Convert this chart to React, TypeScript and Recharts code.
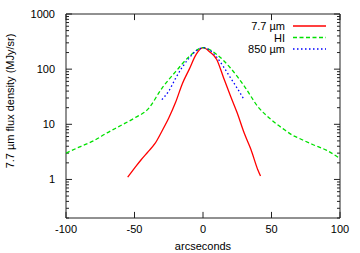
import React from 'react';
import { LineChart, Line, XAxis, YAxis, ReferenceArea, ReferenceLine } from 'recharts';

// radial profiles, offset in arcseconds vs flux density (MJy/sr)
const pahX = [-55, -50, -45, -40, -35, -30, -25, -20, -15, -10, -5, 0, 5, 10, 15, 20, 25, 30, 35, 40, 42];
const pahY = [1.1, 1.6, 2.3, 3.2, 4.5, 7.5, 13, 25, 55, 100, 185, 245, 205, 150, 70, 33, 16, 7, 3.5, 1.5, 1.15];

const hiX = [-100, -90, -80, -70, -60, -50, -40, -30, -20, -10, 0, 10, 20, 30, 40, 50, 60, 65, 70, 80, 90, 100];
const hiY = [3.0, 3.9, 5.0, 7.0, 9.5, 13, 19, 45, 90, 170, 245, 185, 105, 50, 21, 12, 7.8, 6.4, 5.6, 4.3, 3.4, 2.4];

const smmX = [-30, -25, -20, -15, -10, -5, 0, 5, 10, 15, 20, 25, 30];
const smmY = [28, 40, 68, 110, 160, 215, 245, 220, 165, 110, 70, 45, 28];

const xTicks = [-100, -50, 0, 50, 100];
const yTicks = [
  0.2, 0.3, 0.4, 0.5, 0.6, 0.7, 0.8, 0.9,
  1, 2, 3, 4, 5, 6, 7, 8, 9,
  10, 20, 30, 40, 50, 60, 70, 80, 90,
  100, 200, 300, 400, 500, 600, 700, 800, 900,
  1000,
];
const majors = [1, 10, 100, 1000];

const series = [
  { name: '7.7 µm', color: '#ff0000', dash: undefined, xs: pahX, ys: pahY },
  { name: 'HI', color: '#00e000', dash: '4 2.5', xs: hiX, ys: hiY },
  { name: '850 µm', color: '#0000ff', dash: '1.5 2.5', xs: smmX, ys: smmY },
];

const FONT = '"Liberation Sans", Arial, sans-serif';
const INK = '#222';
const W = 360;
const H = 253;
const M = { top: 14, right: 0, bottom: 0, left: 0 };
const LEFT_W = 66;
const RIGHT_W = 20;
const BOTTOM_H = 35;
// tick lengths, in axis units (about 6px / 3px at this size)
const XMAJ = 4.4;
const XMIN = 2.2;
const YFAC = 1.29;

const LeftTick = (props: any) => {
  const { x, y, payload } = props;
  const v = payload.value;
  if (!majors.includes(v)) return <g />;
  return (
    <text x={x - 3} y={y} dy={4} textAnchor="end" fontSize={11} fontFamily={FONT} fill="#000">
      {v}
    </text>
  );
};

const BottomTick = (props: any) => {
  const { x, y, payload } = props;
  return (
    <text x={x} y={y + 7} textAnchor="middle" fontSize={11} fontFamily={FONT} fill="#000">
      {payload.value}
    </text>
  );
};

const tickLine = { stroke: INK, strokeWidth: 1, ifOverflow: 'visible' as const, xAxisId: 'b', yAxisId: 'l' };

export default function App() {
  return (
    <div style={{ position: 'absolute', left: 0, top: 0, width: W, height: H, background: '#fff' }}>
      <LineChart width={W} height={H} margin={M}>
        <XAxis
          xAxisId="b" dataKey="x" type="number" domain={[-100, 100]} ticks={xTicks}
          height={BOTTOM_H} tickLine={false} tick={<BottomTick />} axisLine={false}
          allowDataOverflow
        />
        <YAxis
          yAxisId="l" type="number" scale="log" domain={[0.2, 1000]} ticks={yTicks} interval={0}
          width={LEFT_W} tickLine={false} tick={<LeftTick />} axisLine={false}
          allowDataOverflow
        />
        <YAxis
          yAxisId="r" orientation="right" type="number" scale="log" domain={[0.2, 1000]}
          width={RIGHT_W} tick={false} tickLine={false} axisLine={false}
        />
        <XAxis
          xAxisId="t" orientation="top" type="number" domain={[-100, 100]}
          height={0} tick={false} tickLine={false} axisLine={false}
        />
        <ReferenceArea
          xAxisId="b" yAxisId="l" x1={-100} x2={100} y1={0.2} y2={1000}
          fill="none" fillOpacity={0} stroke={INK} strokeWidth={1} ifOverflow="visible"
        />
        {yTicks.map(v => {
          const len = majors.includes(v) ? XMAJ : XMIN;
          return (
            <React.Fragment key={`y${v}`}>
              <ReferenceLine {...tickLine} segment={[{ x: -100, y: v }, { x: -100 + len, y: v }]} />
              <ReferenceLine {...tickLine} segment={[{ x: 100, y: v }, { x: 100 - len, y: v }]} />
            </React.Fragment>
          );
        })}
        {xTicks.map(v => (
          <React.Fragment key={`x${v}`}>
            <ReferenceLine {...tickLine} segment={[{ x: v, y: 0.2 }, { x: v, y: 0.2 * YFAC }]} />
            <ReferenceLine {...tickLine} segment={[{ x: v, y: 1000 }, { x: v, y: 1000 / YFAC }]} />
          </React.Fragment>
        ))}
        {series.map(s => (
          <Line
            key={s.name} name={s.name} xAxisId="b" yAxisId="l"
            data={s.xs.map((x, i) => ({ x, v: s.ys[i] }))} dataKey="v"
            type="monotone" stroke={s.color} strokeWidth={1.3} strokeDasharray={s.dash}
            dot={false} isAnimationActive={false}
          />
        ))}
        <g>
          {series.map((s, i) => (
            <g key={s.name}>
              <text x={285} y={26 + i * 11.5} dy={4} textAnchor="end" fontSize={11} fontFamily={FONT} fill="#000">
                {s.name}
              </text>
              <path d={`M293,${26 + i * 11.5}h33`} stroke={s.color} strokeWidth={1.3} strokeDasharray={s.dash} fill="none" />
            </g>
          ))}
        </g>
        <text
          x={0} y={0} transform="translate(14,101) rotate(-90)" textAnchor="middle"
          fontSize={11} fontFamily={FONT} fill="#000"
        >
          7.7 µm flux density (MJy/sr)
        </text>
        <text x={203} y={250} textAnchor="middle" fontSize={11} fontFamily={FONT} fill="#000">
          arcseconds
        </text>
      </LineChart>
    </div>
  );
}
